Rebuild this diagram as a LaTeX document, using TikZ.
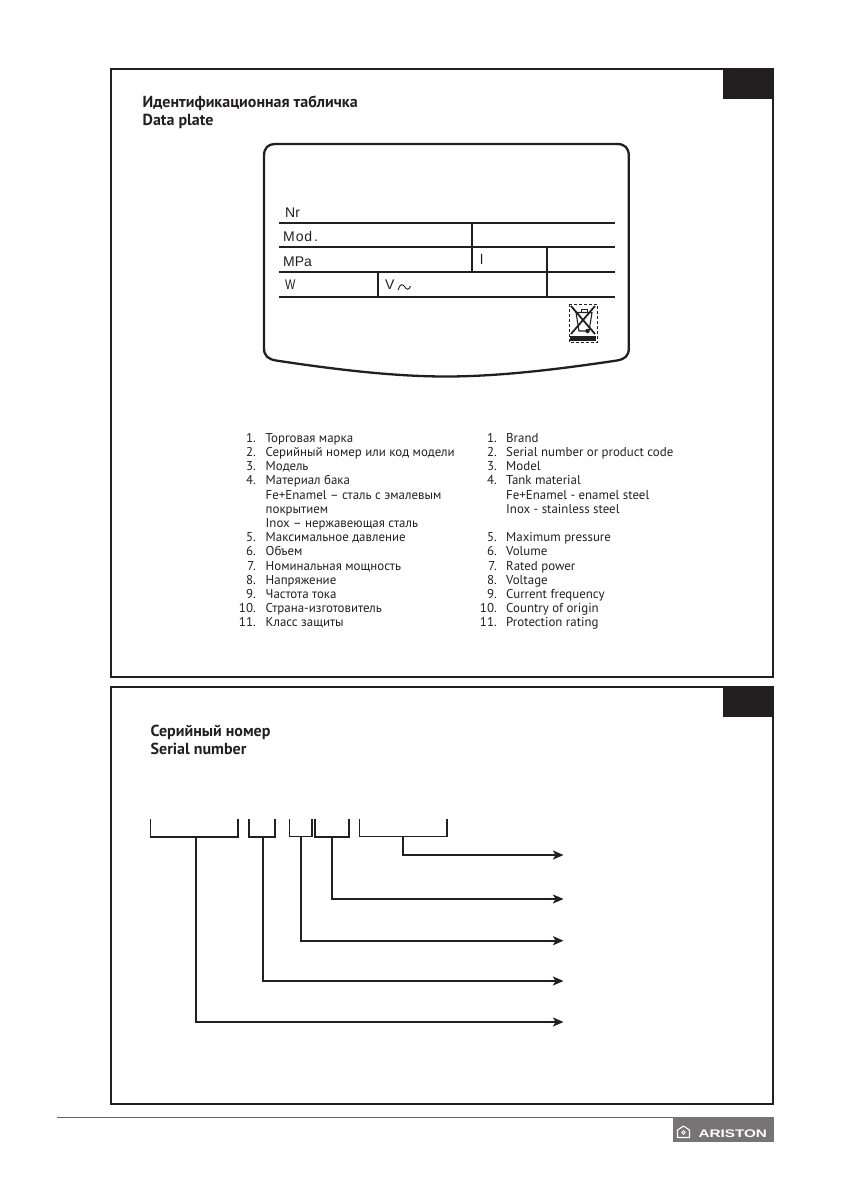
\documentclass[tikz,border=0pt]{standalone}
\usepackage{fontspec}
\setmainfont{PT Sans}
\newfontfamily\platefont{Liberation Sans}
\usetikzlibrary{arrows.meta}
\definecolor{ink}{HTML}{231F20}
\tikzset{
  x=1pt,y=-1pt,
  panel/.style={draw=ink,line width=2.3pt},
  tabbox/.style={fill=ink,draw=none},
  plate/.style={draw=ink,line width=2.3pt,line join=round},
  rule/.style={draw=ink,line width=2.2pt},
  heading/.style={anchor=base west,inner sep=0pt,font=\fontsize{16}{18}\selectfont\bfseries,text=ink},
  item/.style={anchor=base west,inner sep=0pt,font=\fontsize{12.9}{14}\selectfont,text=ink},
  num/.style={anchor=base east,inner sep=0pt,font=\fontsize{12.9}{14}\selectfont,text=ink},
  platetext/.style={anchor=base west,inner sep=0pt,font=\platefont\fontsize{14}{16}\selectfont,text=ink},
  bracket/.style={draw=ink,line width=1.7pt},
  leader/.style={draw=ink,line width=1.7pt,-{Stealth[length=10.5pt,width=9pt,inset=2.5pt]}},
}
\begin{document}
\begin{tikzpicture}
\useasboundingbox (0,0) rectangle (842,1191);
% panels
\draw[panel] (110.7,69.3) rectangle (773,677);
\fill[tabbox] (723,68.2) rectangle (774.1,99);
\draw[panel] (110.7,687) rectangle (773,1104);
\fill[tabbox] (723,686) rectangle (774.1,717);
% headings
\node[heading] (h1) at (142.5,107.5) {Идентификационная табличка};
\node[heading] (h2) at (142.5,125.5) {Data plate};
\node[heading] (h3) at (150.5,736) {Серийный номер};
\node[heading] (h4) at (150.5,754.8) {Serial number};
% plate
\draw[plate] (275,144) -- (617,144) .. controls (625,144) and (628.8,148) .. (628.8,156)
  -- (628.8,348) .. controls (628.8,356) and (625,359) .. (617,360.5)
  .. controls (560,369) and (500,376.5) .. (446,376.5)
  .. controls (392,376.5) and (332,369) .. (276,360.5)
  .. controls (268,359) and (264,356) .. (264,348)
  -- (264,156) .. controls (264,148) and (268,144) .. (275,144) -- cycle;
\draw[rule] (279,222.7) -- (614.5,222.7);
\draw[rule] (279,247.3) -- (614.5,247.3);
\draw[rule] (279,272.3) -- (614.5,272.3);
\draw[rule] (279,297.3) -- (614.5,297.3);
\draw[rule] (472.3,222.7) -- (472.3,272.3);
\draw[rule] (546.7,247.3) -- (546.7,297.3);
\draw[rule] (378.3,272.3) -- (378.3,297.3);
\node[platetext] (nr) at (285,217) {Nr};
\node[platetext] (mod) at (283,241.7) {M\kern0.9pt o\kern0.9pt d\kern1.8pt .};
\node[platetext] (mpa) at (283,266.7) {MPa};
\node[platetext] (lit) at (480,264.5) {l};
\node[platetext] (watt) at (285,289.5) {\scalebox{0.78}[1]{W}};
\node[platetext] (volt) at (385,289.5) {V};
\draw[ink,line width=0.9pt] (398,290) .. controls (400,284) and (402.5,283.5) .. (404.5,286.5) .. controls (406.5,290) and (409,290.5) .. (410.5,286);
% WEEE symbol
\draw[ink,line width=0.7pt,dashed,dash pattern=on 3pt off 2pt] (569.5,304.2) rectangle (597.7,342.3);
\fill[ink] (570,336) rectangle (596.2,341);
\draw[ink,line width=1.1pt] (576,312.5) -- (592,312.5) -- (589,331) -- (579,331) -- cycle;
\draw[ink,line width=0.9pt] (581,312.5) -- (581,309.5) -- (587,309.5) -- (587,312.5);
\draw[ink,line width=1.8pt] (571,306) -- (595,334);
\draw[ink,line width=1.8pt] (595,306) -- (571,334);
\fill[ink] (587.5,331) circle (2.2);
% Russian list
\foreach \n/\lab/\yy in {1./Торговая марка/442.3,2./Серийный номер или код модели/456.5,3./Модель/470.7,4./Материал бака/484.8,5./Максимальное давление/541.6,6./Объем/555.8,7./Номинальная мощность/570,8./Напряжение/584.1,9./Частота тока/598.3,10./Страна-изготовитель/612.5,11./Класс защиты/626.7}{
  \node[num] at (256,\yy) {\n};
  \node[item] at (265.5,\yy) {\lab};
}
\node[item] (ru4a) at (265.5,499) {Fe+Enamel – сталь с эмалевым};
\node[item] (ru4b) at (265.5,513.2) {покрытием};
\node[item] (ru4c) at (265.5,527.4) {Inox – нержавеющая сталь};
% English list
\foreach \n/\lab/\yy in {1./Brand/442.3,2./Serial number or product code/456.5,3./Model/470.7,4./Tank material/484.8,5./Maximum pressure/541.6,6./Volume/555.8,7./Rated power/570,8./Voltage/584.1,9./Current frequency/598.3,10./Country of origin/612.5,11./Protection rating/626.7}{
  \node[num] at (497,\yy) {\n};
  \node[item] at (506,\yy) {\lab};
}
\node[item] (en4a) at (506,499) {Fe+Enamel - enamel steel};
\node[item] (en4b) at (506,513.2) {Inox - stainless steel};
% serial-number brackets
\coordinate (b1) at (195.7,836.8);
\coordinate (b2) at (263,836.8);
\coordinate (b3) at (301,836.8);
\coordinate (b4) at (332,836.8);
\coordinate (b5) at (402.7,836.8);
\coordinate (t1) at (563.5,1022);
\coordinate (t2) at (563.5,981);
\coordinate (t3) at (563.5,940.7);
\coordinate (t4) at (563.5,899);
\coordinate (t5) at (563.5,855);
\draw[bracket] (150.5,819) |- (238.3,836.8) -- (238.3,819);
\draw[bracket] (248.7,819) |- (275.3,836.8) -- (275.3,819);
\draw[bracket,line width=1pt] (289.3,819) |- (312.3,836.8);
\draw[bracket] (312.3,836.8) -- (312.3,819);
\draw[bracket] (315,819) |- (349,836.8) -- (349,819);
\draw[bracket,line width=1pt] (359.7,819) |- (447,836.8);
\draw[bracket] (447,836.8) -- (447,819);
\draw[leader] (b5) |- (t5);
\draw[leader] (b4) |- (t4);
\draw[leader] (b3) |- (t3);
\draw[leader] (b2) |- (t2);
\draw[leader] (b1) |- (t1);
% footer
\draw[draw=ink!70,line width=0.7pt] (57,1117.5) -- (673,1117.5);
\fill[ink!62] (673,1117.3) rectangle (773.5,1141.8);
\draw[white,line width=1.1pt,line join=round] (677.5,1137.5) -- (677.5,1130) -- (683.5,1126) -- (689.5,1130) -- (689.5,1137.5) -- cycle;
\draw[white,line width=0.9pt] (683.5,1132.5) circle (1.8);
\node[anchor=base west,inner sep=0pt,text=white,font=\platefont\fontsize{11}{12}\selectfont\bfseries] (logo) at (698.3,1137.5) {\scalebox{1.39}[1]{ARISTON}};
\end{tikzpicture}
\end{document}
